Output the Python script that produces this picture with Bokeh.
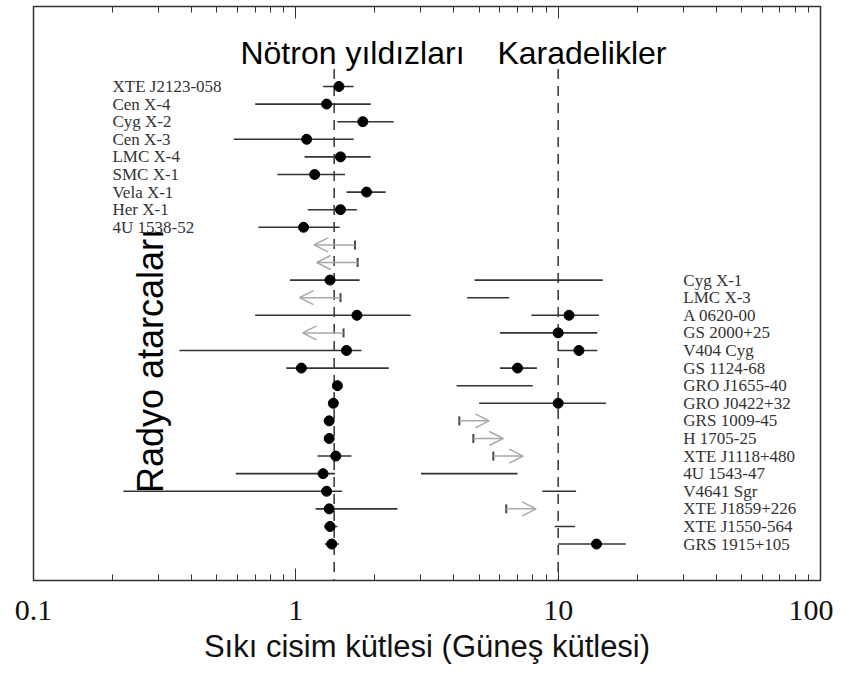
import numpy as np
from bokeh.plotting import figure
from bokeh.models import (Range1d, LogAxis, FixedTicker, CustomJSTickFormatter,
                          ColumnDataSource, Arrow, OpenHead)
from bokeh.core.properties import value
from bokeh.embed import file_html
from bokeh.resources import INLINE

nan = float("nan")

# ---- Neutron stars in X-ray binaries (labelled, top block) ----
ns_names = ["XTE J2123-058", "Cen X-4", "Cyg X-2", "Cen X-3", "LMC X-4",
            "SMC X-1", "Vela X-1", "Her X-1", "4U 1538-52"]
ns_mass = [1.46, 1.31, 1.80, 1.10, 1.48, 1.18, 1.86, 1.48, 1.07]
ns_lo = [1.27, 0.70, 1.44, 0.58, 1.08, 0.85, 1.56, 1.11, 0.72]
ns_hi = [1.66, 1.93, 2.36, 1.66, 1.93, 1.54, 2.20, 1.71, 1.47]

# ---- Radio pulsars (unlabelled) ----
psr_mass = [nan, nan, 1.35, nan, 1.71, nan, 1.56, 1.05, 1.44, 1.39,
            1.34, 1.34, 1.42, 1.27, 1.31, 1.34, 1.35, 1.37]
psr_lo = [nan, nan, 0.95, nan, 0.70, nan, 0.36, 0.92, 1.43, 1.38,
          1.33, 1.33, 1.21, 0.59, 0.22, 1.19, 1.28, 1.29]
psr_hi = [nan, nan, 1.75, nan, 2.74, nan, 1.78, 2.26, 1.45, 1.40,
          1.35, 1.35, 1.63, 1.41, 1.50, 2.44, 1.44, 1.46]
psr_upper = [1.68, 1.72, nan, 1.48, nan, 1.52, nan, nan, nan, nan,
             nan, nan, nan, nan, nan, nan, nan, nan]

# ---- Black holes (labelled, right block) ----
bh_names = ["Cyg X-1", "LMC X-3", "A 0620-00", "GS 2000+25", "V404 Cyg",
            "GS 1124-68", "GRO J1655-40", "GRO J0422+32", "GRS 1009-45",
            "H 1705-25", "XTE J1118+480", "4U 1543-47", "V4641 Sgr",
            "XTE J1859+226", "XTE J1550-564", "GRS 1915+105"]
bh_mass = [nan, nan, 11.0, 10.0, 12.0, 7.0, nan, 10.0, nan,
           nan, nan, nan, nan, nan, nan, 14.0]
bh_lo = [4.8, 4.5, 7.9, 6.0, 10.0, 6.0, 4.1, 5.0, nan,
         nan, nan, 3.0, 8.7, nan, 9.7, 10.0]
bh_hi = [14.8, 6.5, 14.3, 14.1, 14.1, 8.3, 8.0, 15.2, nan,
         nan, nan, 7.0, 11.7, nan, 11.6, 18.1]
bh_lower = [nan, nan, nan, nan, nan, nan, nan, nan, 4.2,
            4.75, 5.66, nan, nan, 6.34, nan, nan]

ns_ref = 1.4    # canonical neutron-star mass
bh_ref = 10.0

x_ticks = [0.1, 1, 10, 100]

# row order (top to bottom)
ns_rows = list(range(1, 1 + len(ns_names)))
psr_rows = list(range(ns_rows[-1] + 1, ns_rows[-1] + 1 + len(psr_mass)))
bh_rows = list(range(psr_rows[-1] + 1 - len(bh_names), psr_rows[-1] + 1))

Y_BOTTOM, Y_TOP = 29.07, -3.545

p = figure(width=833, height=666, x_axis_type="log",
           x_range=Range1d(0.1, 100), y_range=Range1d(Y_BOTTOM, Y_TOP),
           output_backend="svg", toolbar_location=None, y_axis_location=None,
           min_border_left=33, min_border_right=13, min_border_top=6,
           min_border_bottom=86)
p.grid.visible = False
p.outline_line_color = "#333333"
p.outline_line_width = 1.5
p.background_fill_color = "white"

minor = [m * d for d in (0.1, 1, 10) for m in range(2, 10)]
ticker = FixedTicker(ticks=x_ticks, minor_ticks=minor)

ax = p.xaxis[0]
ax.ticker = ticker
ax.formatter = CustomJSTickFormatter(code="return tick.toString();")
ax.axis_line_color = None
ax.major_tick_in = 12
ax.major_tick_out = 0
ax.minor_tick_in = 6
ax.minor_tick_out = 0
ax.major_tick_line_color = "#333333"
ax.minor_tick_line_color = "#333333"
ax.major_label_text_font = "Liberation Serif"
ax.major_label_text_font_size = "30px"
ax.major_label_text_color = "#111111"
ax.major_label_standoff = 20
ax.axis_label = "Sıkı cisim kütlesi (Güneş kütlesi)"
ax.axis_label_text_font = "Liberation Sans"
ax.axis_label_text_font_size = "31px"
ax.axis_label_text_font_style = "normal"
ax.axis_label_text_color = "#111111"
ax.axis_label_standoff = 6

top = LogAxis(ticker=ticker, axis_line_color=None, major_tick_in=12,
              major_tick_out=0, minor_tick_in=6, minor_tick_out=0,
              major_tick_line_color="#333333", minor_tick_line_color="#333333",
              formatter=CustomJSTickFormatter(code="return '';"),
              major_label_text_font_size="1px", major_label_text_alpha=0,
              major_label_standoff=0)
p.add_layout(top, "above")

# reference dashed lines
p.segment(x0=[ns_ref, bh_ref], x1=[ns_ref, bh_ref], y0=[0, 0],
          y1=[Y_BOTTOM, Y_BOTTOM], line_color="#333333", line_width=1.5,
          line_dash="10 7")

line_col = "#333333"
err_w = 1.6

def measured(rows, mass, lo, hi):
    p.segment(x0=lo, x1=hi, y0=rows, y1=rows, line_color=line_col,
              line_width=err_w)
    p.scatter(x=mass, y=rows, size=10, color="black")

measured(ns_rows, ns_mass, ns_lo, ns_hi)
measured(psr_rows, psr_mass, psr_lo, psr_hi)
measured(bh_rows, bh_mass, bh_lo, bh_hi)

UP_FACTOR = 0.698
LOW_FACTOR = 1.30
arrow_col = "#a9a9a9"

def limits(rows, lims, factor):
    rr = [r for r, v in zip(rows, lims) if not np.isnan(v)]
    vv = [v for v in lims if not np.isnan(v)]
    src = ColumnDataSource(dict(x0=vv, x1=[v * factor for v in vv], y=rr))
    p.add_layout(Arrow(end=OpenHead(size=14, line_color=arrow_col,
                                    line_width=1.5),
                       x_start="x0", x_end="x1", y_start="y", y_end="y",
                       line_color=arrow_col, line_width=1.5, source=src))
    p.scatter(x=vv, y=rr, marker="dash", angle=np.pi / 2, size=9,
              line_color="#444444", line_width=2)

limits(psr_rows, psr_upper, UP_FACTOR)
limits(bh_rows, bh_lower, LOW_FACTOR)

# object labels
p.text(x=[0.2] * len(ns_names), y=ns_rows, text=ns_names,
       text_font=value("Liberation Serif"), text_font_size="17px",
       text_align="left", text_baseline="middle", text_color="#333333")
p.text(x=[30] * len(bh_names), y=bh_rows, text=bh_names,
       text_font=value("Liberation Serif"), text_font_size="17px",
       text_align="left", text_baseline="middle", text_color="#333333")

# group titles
p.text(x=[0.615, 5.87], y=[-0.9, -0.9], text=["Nötron yıldızları", "Karadelikler"],
       text_font=value("Liberation Sans"), text_font_size="32px",
       text_align="left", text_baseline="alphabetic", text_color="black")
p.text(x=[0.279], y=[16.6], text=["Radyo atarcaları"], angle=np.pi / 2,
       text_font=value("Liberation Sans"), text_font_size="36px",
       text_align="center", text_baseline="middle", text_color="black")

open("out.html", "w").write(file_html(p, INLINE))
